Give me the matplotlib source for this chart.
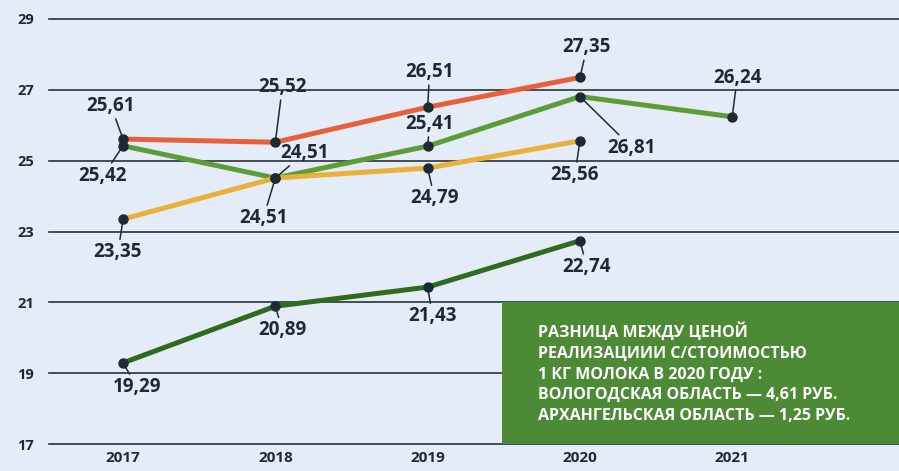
import matplotlib.pyplot as plt
from matplotlib.patches import Rectangle

years = [2017, 2018, 2019, 2020, 2021]

red_vals = [25.61, 25.52, 26.51, 27.35]
green_vals = [25.42, 24.51, 25.41, 26.81, 26.24]
yellow_vals = [23.35, 24.51, 24.79, 25.56]
dark_vals = [19.29, 20.89, 21.43, 22.74]

yticks = [17, 19, 21, 23, 25, 27, 29]
box_text = ['РАЗНИЦА МЕЖДУ ЦЕНОЙ',
            'РЕАЛИЗАЦИИИ С/СТОИМОСТЬЮ',
            '1 КГ МОЛОКА В 2020 ГОДУ :',
            'ВОЛОГОДСКАЯ ОБЛАСТЬ — 4,61 РУБ.',
            'АРХАНГЕЛЬСКАЯ ОБЛАСТЬ — 1,25 РУБ.']

bg = '#e4ecf7'
ink = '#1e2a33'
font = ['Open Sans', 'DejaVu Sans']
plt.rcParams['font.family'] = font

fig = plt.figure(figsize=(8.99, 4.71), dpi=100)
fig.patch.set_facecolor(bg)
ax = fig.add_axes([49/899, 27/471, 850/899, 425/471])
ax.set_facecolor(bg)
ax.set_xlim(2016.514, 2022.095)
ax.set_ylim(17, 29)
for s in ax.spines.values():
    s.set_visible(False)

for y in yticks:
    ax.axhline(y, color='#2b3236', lw=1.2, zorder=1, clip_on=False)

ax.set_yticks(yticks)
ax.set_yticklabels([str(v) for v in yticks], fontsize=10.5, fontweight='bold', color=ink)
ax.set_xticks(years)
ax.set_xticklabels([str(v) for v in years], fontsize=11, fontweight='bold', color=ink)
ax.tick_params(axis='y', length=0, pad=11)
ax.tick_params(axis='x', length=0, pad=5)

# green info box
ax.add_patch(Rectangle((2019.49, 17), 2022.095 - 2019.49, 4, color='#4c8a36', zorder=2, lw=0))
ax.text(2019.725, 20.42, '\n'.join(box_text), color='white', fontsize=11.5, fontweight='bold',
        va='top', ha='left', linespacing=1.38, zorder=3)

series = [
    (red_vals, '#e8603a'),
    (green_vals, '#5b9e38'),
    (yellow_vals, '#e9b03a'),
    (dark_vals, '#2f6b1e'),
]
for vals, col in series:
    xs = years[:len(vals)]
    ax.plot(xs, vals, color=col, lw=3.6, zorder=4, solid_capstyle='round')
    ax.plot(xs, vals, 'o', color=ink, ms=6.5, zorder=6)

# label offsets in pixels (dx, dy) from point
offsets = {
    'red': [(-12, 33), (7, 55), (2, 35), (7, 30)],
    'green': [(-20, -30), (29, 25), (2, 22), (52, -51), (5, 39)],
    'yellow': [(-5, -33), (-12, -40), (7, -30), (-5, -34)],
    'dark': [(14, -24), (7, -24), (5, -29), (7, -26)],
}
for (vals, col), key in zip(series, ['red', 'green', 'yellow', 'dark']):
    for x, v, (dx, dy) in zip(years, vals, offsets[key]):
        ax.annotate(f'{v:.2f}'.replace('.', ','), xy=(x, v), xytext=(dx, dy),
                    textcoords='offset pixels', ha='center', va='center',
                    fontsize=13.5, fontweight='bold', color=ink, zorder=7,
                    arrowprops=dict(arrowstyle='-', color=ink, lw=1.1,
                                    shrinkA=0, shrinkB=2))

fig.savefig('out.png', dpi=100, facecolor=bg)
